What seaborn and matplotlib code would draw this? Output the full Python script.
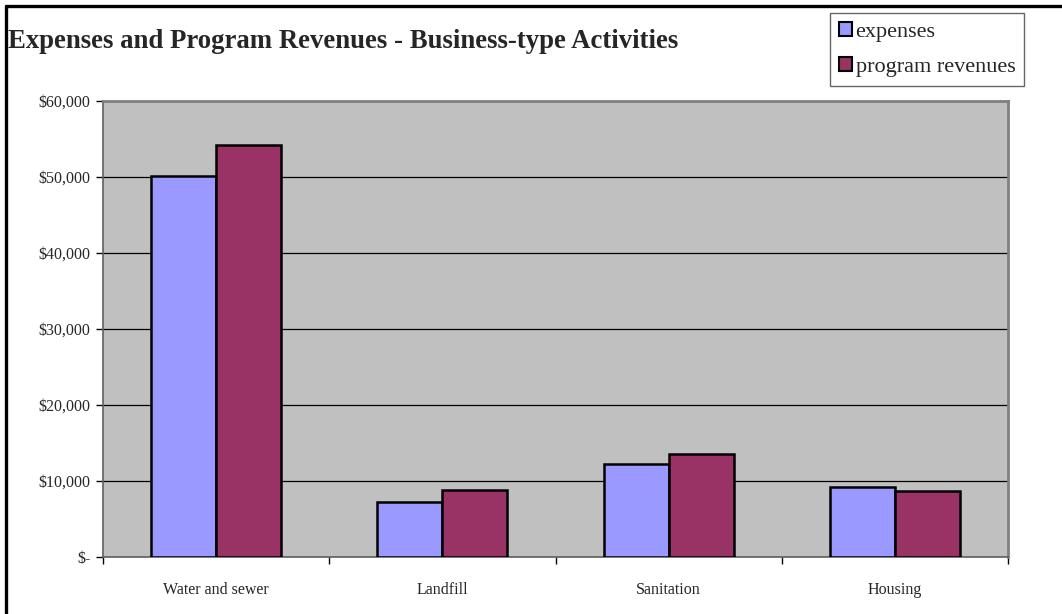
import matplotlib
matplotlib.use("Agg")
import matplotlib.pyplot as plt
from matplotlib.patches import Patch
from matplotlib.lines import Line2D
from matplotlib.ticker import FuncFormatter, FixedLocator
import seaborn as sns
import pandas as pd

categories = ["Water and sewer", "Landfill", "Sanitation", "Housing"]
expenses = [50100, 7300, 12200, 9170]
program_revenues = [54200, 8870, 13550, 8680]
series_names = ["expenses", "program revenues"]
colors = ["#9999FF", "#993366"]
title = "Expenses and Program Revenues - Business-type Activities"

df = pd.DataFrame({
    "category": categories * 2,
    "value": expenses + program_revenues,
    "series": [series_names[0]] * len(categories) + [series_names[1]] * len(categories),
})

sns.set_style("white")
plt.rcParams["font.family"] = ["Liberation Serif", "DejaVu Serif"]

fig = plt.figure(figsize=(10.62, 6.14), dpi=100)
ax = fig.add_axes([103 / 1062, 1 - 557 / 614, (1008 - 103) / 1062, (557 - 101) / 614])
ax.set_facecolor("#C0C0C0")

sns.barplot(data=df, x="category", y="value", hue="series", order=categories,
            hue_order=series_names, palette=colors, width=0.575,
            edgecolor="black", linewidth=1.8, saturation=1, ax=ax, legend=False,
            errorbar=None, zorder=3)

ax.set_ylim(0, 60000)
ax.set_xlim(-0.5, len(categories) - 0.5)
ax.yaxis.set_major_locator(FixedLocator(range(0, 60001, 10000)))
ax.yaxis.set_major_formatter(FuncFormatter(lambda v, p: "$-" if v == 0 else f"${v:,.0f}"))
ax.grid(axis="y", color="black", linewidth=0.9, zorder=1)
ax.set_axisbelow(True)
ax.set_xlabel("")
ax.set_ylabel("")

ax.tick_params(axis="y", which="major", direction="out", length=5, width=1, color="black",
               labelsize=11.5, pad=4, left=True)
ax.tick_params(axis="x", which="major", length=0, labelsize=11.5, pad=18)
ax.set_xticks(range(len(categories)))
ax.set_xticklabels(categories)
ax.set_xticks([i - 0.5 for i in range(len(categories) + 1)], minor=True)
ax.tick_params(axis="x", which="minor", direction="out", length=5, width=1, color="black", bottom=True)

for side in ["top", "right"]:
    ax.spines[side].set_visible(True)
    ax.spines[side].set_color("#808080")
    ax.spines[side].set_linewidth(2)
ax.spines["left"].set_color("#606060")
ax.spines["left"].set_linewidth(1.2)
ax.spines["bottom"].set_color("#606060")
ax.spines["bottom"].set_linewidth(1.2)

fig.text(8 / 1062, 1 - 41 / 614, title, fontsize=19.3, fontweight="bold", va="center", ha="left")

handles = [Patch(facecolor=c, edgecolor="black", linewidth=1.5, label=n) for c, n in zip(colors, series_names)]
leg = fig.legend(handles=handles, loc="upper left", bbox_to_anchor=(830 / 1062, 1 - 13 / 614),
                 frameon=True, fancybox=False, edgecolor="#404040", fontsize=16,
                 handlelength=0.6, handleheight=0.6, handletextpad=0.15, labelspacing=0.7,
                 borderpad=0.4, borderaxespad=0)
leg.get_frame().set_linewidth(1.0)

fig.add_artist(Line2D([6 / 1062, 1], [1 - 6 / 614, 1 - 6 / 614], color="black", linewidth=2.4,
                      transform=fig.transFigure))
fig.add_artist(Line2D([6 / 1062, 6 / 1062], [0, 1 - 6 / 614], color="black", linewidth=2.4,
                      transform=fig.transFigure))

fig.savefig("out.png", dpi=100)
